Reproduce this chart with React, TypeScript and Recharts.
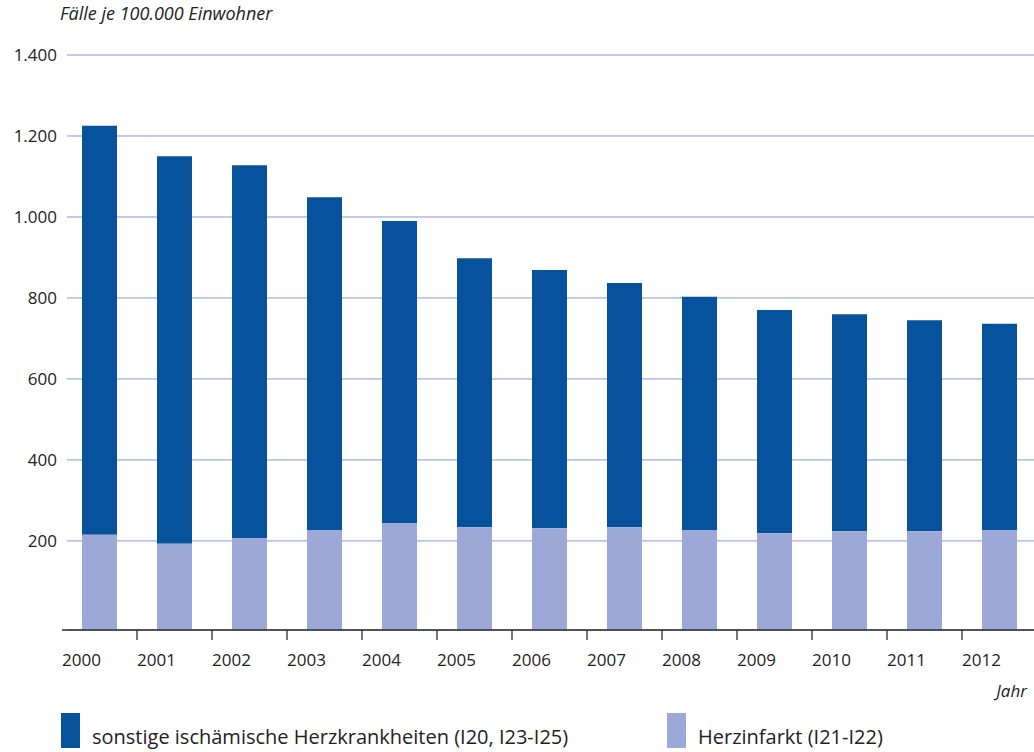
import { Bar, BarChart, CartesianGrid, Legend, XAxis, YAxis } from "recharts"

// Fälle je 100.000 Einwohner
const years = ["2000", "2001", "2002", "2003", "2004", "2005", "2006", "2007", "2008", "2009", "2010", "2011", "2012"]
const totalCases = [1225, 1150, 1128, 1049, 990, 898, 869, 837, 803, 770, 760, 745, 736]
const heartAttack = [215, 193, 207, 227, 244, 234, 231, 234, 227, 219, 224, 224, 227]
const yTicks = [200, 400, 600, 800, 1000, 1200, 1400]

// the x axis of the original sits a little below zero
const axisFloor = -20

const DARK = "#06529c"
const LIGHT = "#9ca9d7"
const GRID = "#8796d2"
const FONT = "'Open Sans', Lato, sans-serif"

const data = years.map((year, i) => ({
  year,
  total: totalCases[i],
  herz: heartAttack[i],
}))

const legendItems = [
  { label: "sonstige ischämische Herzkrankheiten (I20, I23-I25)", color: DARK },
  { label: "Herzinfarkt (I21-I22)", color: LIGHT },
]

// eslint-disable-next-line @typescript-eslint/no-explicit-any
const YearTick = (props: any) => {
  const { x, y, payload, index } = props
  const half = payload.offset ?? 37.5
  const start = x - half
  return (
    <g>
      {index > 0 && <line x1={start} x2={start} y1={y} y2={y + 10} stroke="#2b2b2b" strokeWidth={1.3} />}
      <text x={start} y={y + 36} textAnchor="start" fontSize={17} fill="#222" fontFamily={FONT}>
        {payload.value}
      </text>
    </g>
  )
}

const LegendContent = () => (
  <div style={{ position: "relative", width: 1034, height: 40, fontFamily: FONT, fontSize: 20, color: "#222" }}>
    {legendItems.map((item, i) => (
      <div key={item.label} style={{ position: "absolute", left: i === 0 ? 61 : 667, top: 0, display: "flex", alignItems: "flex-end" }}>
        <span style={{ display: "inline-block", width: 19, height: 35, background: item.color }} />
        <span style={{ marginLeft: 12, lineHeight: "22px", whiteSpace: "nowrap" }}>{item.label}</span>
      </div>
    ))}
  </div>
)

export default function App() {
  return (
    <div style={{ position: "absolute", left: 0, top: 0, width: 1034, height: 752, overflow: "hidden", background: "#fff" }}>
      <BarChart
        width={1040}
        height={752}
        data={data}
        margin={{ top: 55, right: 3, left: 0, bottom: 0 }}
        barSize={35}
      >
        <CartesianGrid horizontal vertical={false} stroke={GRID} strokeWidth={1} x={67} width={970} />
        <XAxis
          dataKey="year"
          xAxisId={0}
          height={122}
          axisLine={{ stroke: "#2b2b2b", strokeWidth: 1.3 }}
          tickLine={false}
          tickSize={0}
          tickMargin={0}
          interval={0}
          tick={<YearTick />}
          label={{
            content: () => (
              <text x={1027} y={697} textAnchor="end" fontStyle="italic" fontSize={17} fill="#222" fontFamily={FONT}>
                Jahr
              </text>
            ),
          }}
        />
        <XAxis dataKey="year" xAxisId={1} hide />
        <YAxis
          width={62}
          domain={[axisFloor, 1400]}
          ticks={yTicks}
          axisLine={false}
          tickLine={false}
          tickSize={0}
          tickMargin={5}
          tick={{ fontSize: 17, fill: "#222", fontFamily: FONT }}
          tickFormatter={(v: number) => v.toLocaleString("de-DE")}
          label={{
            content: () => (
              <text x={60} y={20} textAnchor="start" fontStyle="italic" fontSize={18} fill="#222" fontFamily={FONT}>
                Fälle je 100.000 Einwohner
              </text>
            ),
          }}
        />
        <Legend
          layout="horizontal"
          verticalAlign="middle"
          content={<LegendContent />}
          wrapperStyle={{ position: "absolute", left: 0, top: 713, width: 1034 }}
        />
        <Bar
          xAxisId={0}
          name="sonstige ischämische Herzkrankheiten (I20, I23-I25)"
          dataKey={(d: { herz: number; total: number }) => [d.herz, d.total]}
          fill={DARK}
          isAnimationActive={false}
        />
        <Bar
          xAxisId={1}
          name="Herzinfarkt (I21-I22)"
          dataKey={(d: { herz: number }) => [axisFloor, d.herz]}
          fill={LIGHT}
          isAnimationActive={false}
        />
      </BarChart>
    </div>
  )
}
